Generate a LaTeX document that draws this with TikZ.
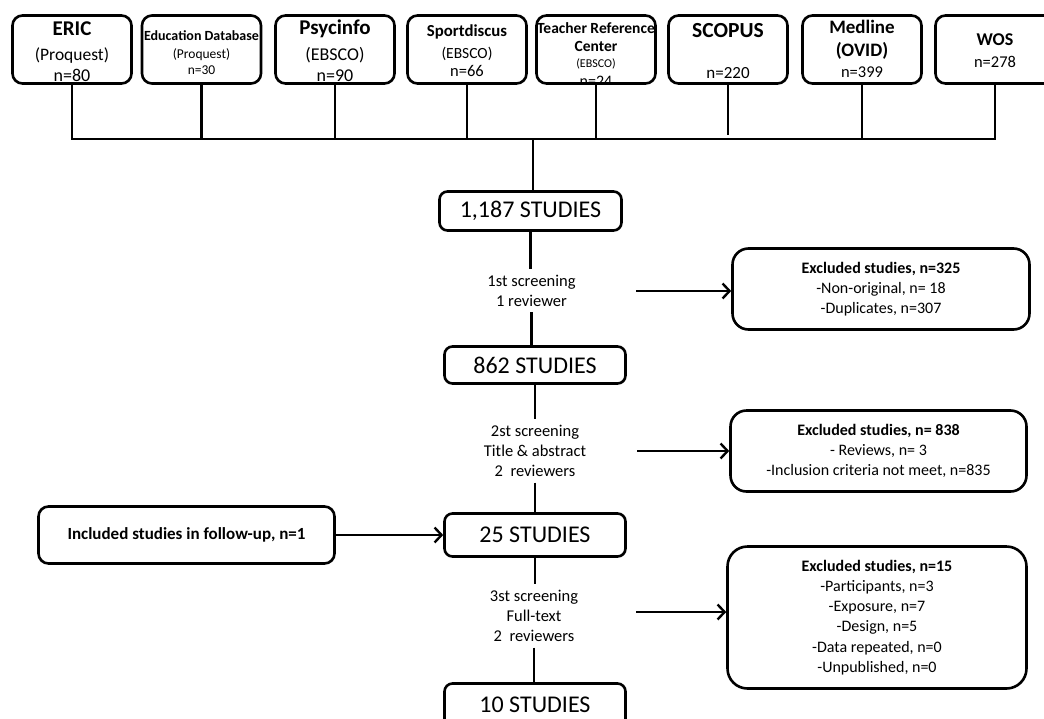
\documentclass[tikz,border=0pt]{standalone}
\usepackage{fontspec}
\setmainfont{Carlito}
\usetikzlibrary{arrows.meta}
\newcommand{\fs}[1]{\fontsize{#1}{#1}\selectfont}
\begin{document}
\begin{tikzpicture}[x=1pt,y=-1pt,
  box/.style={draw,line width=2.6pt,inner sep=0pt},
  dbbox/.style={box,rounded corners=10pt,minimum width=119pt,minimum height=68pt},
  sbox/.style={box,rounded corners=8pt,font=\fs{24}},
  exbox/.style={box,rounded corners=16pt,align=center,font=\fontsize{16}{20.3}\selectfont},
  scr/.style={align=center,inner xsep=2pt,inner ysep=6pt,font=\fontsize{16.5}{19.8}\selectfont},
  lbl/.style={anchor=base,inner sep=0pt},
  conn/.style={line width=2.6pt},
  arr/.style={line width=2.6pt,-{Straight Barb[length=7pt,width=15pt,line width=2.4pt]}}
]
\useasboundingbox (0,0) rectangle (1044,718);
\clip (0,0) rectangle (1044,718);
% database boxes
\node[dbbox] (eric) at (72,49.5) {};
\node[dbbox] (edu) at (201.5,49.5) {};
\node[dbbox] (psy) at (335,49.5) {};
\node[dbbox] (spo) at (467,49.5) {};
\node[dbbox] (tea) at (596,49.5) {};
\node[dbbox] (sco) at (728,49.5) {};
\node[dbbox] (med) at (862,49.5) {};
\node[dbbox] (wos) at (995,49.5) {};
% database texts
\node[lbl,font=\fs{21}\bfseries] (ericA) at (72,35) {ERIC};
\node[lbl,font=\fs{17.5}] (ericB) at (72,60) {(Proquest)};
\node[lbl,font=\fs{18}] (ericC) at (72,81) {n=80};
\node[lbl,font=\fs{14}\bfseries] (eduA) at (201.5,40) {Education Database};
\node[lbl,font=\fs{13.5}] (eduB) at (201.5,58) {(Proquest)};
\node[lbl,font=\fs{13.5}] (eduC) at (201.5,74) {n=30};
\node[lbl,font=\fs{21}\bfseries] (psyA) at (335,34) {Psycinfo};
\node[lbl,font=\fs{18}] (psyB) at (335,60) {(EBSCO)};
\node[lbl,font=\fs{18}] (psyC) at (335,81) {n=90};
\node[lbl,font=\fs{16.8}\bfseries] (spoA) at (467,36.5) {Sportdiscus};
\node[lbl,font=\fs{15.5}] (spoB) at (467,58) {(EBSCO)};
\node[lbl,font=\fs{16.5}] (spoC) at (467,76) {n=66};
\begin{scope}
  \clip (tea.south west) rectangle (tea.north east);
  \node[lbl,font=\fs{15.5}\bfseries] (teaA) at (596,33) {Teacher Reference};
  \node[lbl,font=\fs{15.5}\bfseries] (teaB) at (596,51) {Center};
  \node[lbl,font=\fs{12}] (teaC) at (596,67) {(EBSCO)};
  \node[lbl,font=\fs{16}] (teaD) at (596,86) {n=24};
\end{scope}
\node[lbl,font=\fs{21.5}\bfseries] (scoA) at (728,37) {SCOPUS};
\node[lbl,font=\fs{17}] (scoB) at (728,78) {n=220};
\node[lbl,font=\fs{19}\bfseries] (medA) at (862,33) {Medline};
\node[lbl,font=\fs{19}\bfseries] (medB) at (862,56) {(OVID)};
\node[lbl,font=\fs{16.5}] (medC) at (862,77) {n=399};
\node[lbl,font=\fs{18}\bfseries] (wosA) at (995,45) {WOS};
\node[lbl,font=\fs{16.5}] (wosB) at (995,67) {n=278};
% bus
\coordinate (bus) at (533,139);
\draw[conn] (eric.south) -- (eric.south |- bus) -- (wos.south |- bus) -- (wos.south);
\foreach \n in {edu,psy,spo,tea,med}{\draw[conn] (\n.south) -- (\n.south |- bus);}
\draw[conn] (sco.south) -- ++(0,50);
% flow
\node[sbox,minimum width=182pt,minimum height=39pt] (s1187) at (530.5,211) {1,187 STUDIES};
\node[sbox,minimum width=181pt,minimum height=37pt] (s862) at (535,365) {862 STUDIES};
\node[sbox,minimum width=181pt,minimum height=43pt] (s25) at (535,535) {25 STUDIES};
\node[sbox,minimum width=181pt,minimum height=43pt] (s10) at (535,705) {10 STUDIES};
\draw[conn] (bus) -- (bus |- s1187.north);
\node[scr] (scr1) at (531.5,290.5) {1st screening\\1 reviewer};
\node[scr] (scr2) at (535,451) {2st screening\\Title \& abstract\\2~ reviewers};
\node[scr] (scr3) at (534,616) {3st screening\\Full-text\\2~ reviewers};
\draw[conn] (s1187.south) -- (s1187.south |- scr1.north);
\draw[conn] (scr1.south) -- (scr1.south |- s862.north);
\draw[conn] (s862.south) -- (s862.south |- scr2.north);
\draw[conn] (scr2.south) -- (scr2.south |- s25.north);
\draw[conn] (s25.south) -- (s25.south |- scr3.north);
\draw[conn] (scr3.south) -- (scr3.south |- s10.north);
% excluded
\node[exbox,minimum width=297pt,minimum height=81pt] (ex1) at (881,289)
  {\textbf{Excluded studies, n=325}\\-Non-original, n= 18\\-Duplicates, n=307};
\node[exbox,minimum width=296pt,minimum height=81pt] (ex2) at (878.5,451)
  {\textbf{Excluded studies, n= 838}\\- Reviews, n= 3\\-Inclusion criteria not meet, n=835};
\node[exbox,rounded corners=20pt,minimum width=299pt,minimum height=142pt] (ex3) at (877,617.5)
  {\textbf{Excluded studies, n=15}\\-Participants, n=3\\-Exposure, n=7\\-Design, n=5\\-Data repeated, n=0\\-Unpublished, n=0};
\node[box,rounded corners=10pt,minimum width=296pt,minimum height=57pt,font=\fs{17}\bfseries] (inc) at (186.5,535)
  {Included studies in follow-up, n=1};
\coordinate (a1) at (636,291);
\coordinate (a2) at (637,451);
\coordinate (a3) at (636,612);
\draw[arr] (a1) -- (a1 -| ex1.west);
\draw[arr] (a2) -- (a2 -| ex2.west);
\draw[arr] (a3) -- (a3 -| ex3.west);
\draw[arr] (inc.east) -- (s25.west);
\end{tikzpicture}
\end{document}
